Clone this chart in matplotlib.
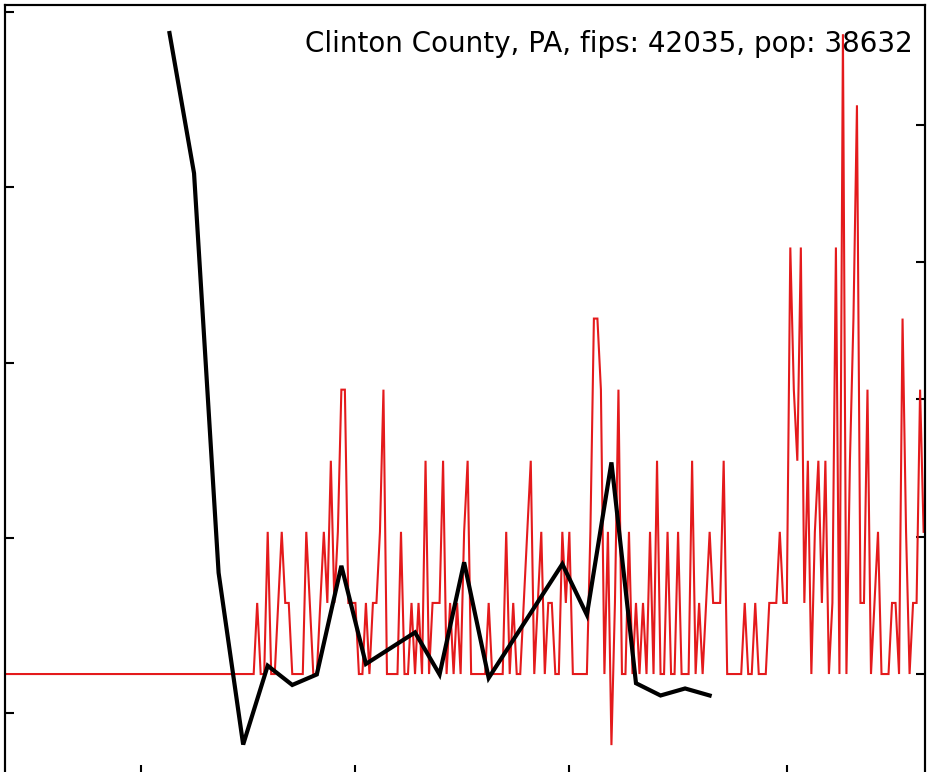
import numpy as np
import pandas as pd
import matplotlib
matplotlib.use("Agg")
import matplotlib.pyplot as plt
import matplotlib.dates as mdates

plt.rcParams['font.family'] = ['DejaVu Sans']

# ---- data ----
county_label = "Clinton County, PA, fips: 42035, pop: 38632"
population = 38632

# daily new cases (red), from 2020-04-02 onward; zeros before that since 2020-01-22
red_start = "2020-01-22"
red_nonzero_start = "2020-04-02"
daily_cases = [0, 1, 0, 0, 2, 0, 0, 1, 2, 1, 1, 0, 0, 0, 0, 2, 1, 0, 0, 1,
               2, 1, 3, 1, 2, 4, 4, 1, 1, 1, 0, 0, 1, 0, 1, 1, 2, 4, 0, 0,
               0, 0, 2, 0, 0, 1, 0, 1, 0, 3, 0, 1, 1, 1, 3, 0, 1, 0, 1, 0,
               2, 3, 0, 0, 0, 0, 0, 1, 0, 0, 0, 0, 2, 0, 1, 0, 0, 1, 2, 3,
               0, 1, 2, 0, 1, 1, 0, 0, 2, 1, 2, 0, 0, 0, 0, 0, 2, 5, 5, 4,
               0, 2, -1, 1, 4, 0, 0, 2, 0, 1, 0, 1, 0, 2, 0, 3, 0, 0, 2, 0,
               0, 2, 0, 0, 0, 3, 0, 1, 0, 1, 2, 1, 1, 1, 3, 0, 0, 0, 0, 0,
               1, 0, 0, 1, 0, 0, 0, 1, 1, 1, 2, 1, 1, 6, 4, 3, 6, 1, 3, 0,
               2, 3, 1, 3, 0, 1, 6, 0, 9, 0, 3, 5, 8, 1, 1, 4, 0, 1, 2, 0,
               0, 0, 1, 1, 0, 5, 2, 0, 1, 1, 4, 2]

# weekly series (black, left axis)
black_dates = ["2020-03-09", "2020-03-16", "2020-03-23", "2020-03-30", "2020-04-06",
               "2020-04-13", "2020-04-20", "2020-04-27", "2020-05-04", "2020-05-18",
               "2020-05-25", "2020-06-01", "2020-06-08", "2020-06-29", "2020-07-06",
               "2020-07-13", "2020-07-20", "2020-07-27", "2020-08-03", "2020-08-10"]
black_values = [3.88, 3.08, 0.80, -0.18, 0.27, 0.16, 0.22, 0.84, 0.28, 0.46,
                0.22, 0.86, 0.20, 0.85, 0.56, 1.43, 0.17, 0.10, 0.14, 0.10]

xtick_dates = ["2020-03-01", "2020-05-01", "2020-07-01", "2020-09-01"]
left_ticks = [0, 1, 2, 3, 4]
right_ticks = [0, 5, 10, 15, 20]

# ---- build series ----
pre = pd.date_range(red_start, pd.Timestamp(red_nonzero_start) - pd.Timedelta(days=1))
post = pd.date_range(red_nonzero_start, periods=len(daily_cases))
red_dates = pre.append(post)
red_vals = np.concatenate([np.zeros(len(pre)), np.array(daily_cases, float)])
red_per100k = red_vals * 100000.0 / population

bdates = pd.to_datetime(black_dates)

# ---- figure ----
W, H = 927, 772
fig = plt.figure(figsize=(W / 100, H / 100), dpi=100)
ax = fig.add_axes([5 / W, -2 / H, 920 / W, 769 / H])

ax.plot(red_dates, red_per100k, color='#E41A1C', lw=1.5, zorder=2,
        solid_joinstyle='miter')
ax.set_ylim(-3.64, 24.36)

x0 = mdates.date2num(pd.Timestamp("2020-03-01"))
ax.set_xlim(x0 - 38.9, x0 + 223.4)
ax.set_xticks(mdates.date2num(pd.to_datetime(xtick_dates)))
ax.set_xticklabels([])

ax.text(913 / W, (H - 52) / H, county_label, transform=fig.transFigure,
        ha='right', va='baseline', fontsize=20, color='black', zorder=1)

ax2 = ax.twinx()
ax2.plot(bdates, black_values, color='black', lw=3.0, zorder=3,
         solid_joinstyle='miter')
ax2.set_ylim(-0.348, 4.04)
ax2.set_xlim(x0 - 38.9, x0 + 223.4)

# right axis (red) ticks, left axis (black) ticks
ax.yaxis.tick_right()
ax.set_yticks(right_ticks)
ax.set_yticklabels([])
ax2.yaxis.tick_left()
ax2.set_yticks(left_ticks)
ax2.set_yticklabels([])

for a in (ax, ax2):
    for s in a.spines.values():
        s.set_linewidth(1.5)
        s.set_color('black')
ax.tick_params(axis='y', left=False, right=True, labelleft=False, labelright=False,
               direction='in', length=6.5, width=1.5, color='black')
ax2.tick_params(axis='y', left=True, right=False, labelleft=False, labelright=False,
                direction='in', length=6.5, width=1.5, color='black')
ax.tick_params(axis='x', top=False, bottom=True, direction='in', length=6.5,
               width=1.5, color='black')
ax2.tick_params(axis='x', top=False, bottom=False)
ax.patch.set_visible(False)
ax2.patch.set_visible(False)

fig.savefig("out.png", dpi=100, facecolor='white')
